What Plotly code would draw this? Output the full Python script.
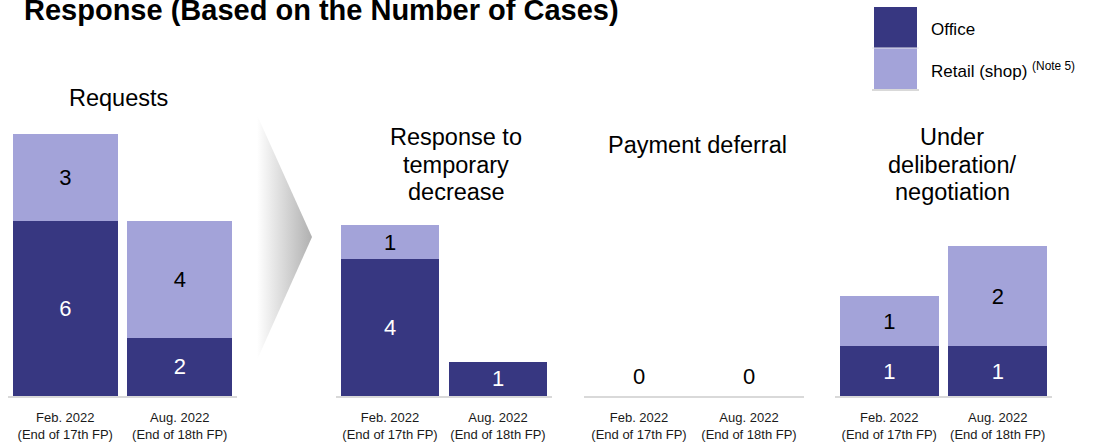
import plotly.graph_objects as go

# ---------------- data ----------------
periods = ["Feb. 2022<br>(End of 17th FP)", "Aug. 2022<br>(End of 18th FP)"]

office_requests = [6, 2]
retail_requests = [3, 4]
office_temp_decrease = [4, 1]
retail_temp_decrease = [1, 0]
office_deferral = [0, 0]
retail_deferral = [0, 0]
office_deliberation = [1, 1]
retail_deliberation = [1, 2]

group_titles = [
    ["Requests"],
    ["Response to", "temporary", "decrease"],
    ["Payment deferral"],
    ["Under", "deliberation/", "negotiation"],
]
series_names = ["Office", "Retail (shop)"]
chart_title = "Response (Based on the Number of Cases)"

# ---------------- style / layout constants ----------------
W, H = 1093, 443
FONT = "Liberation Sans, Arial, sans-serif"
C_OFFICE = "#373781"
C_RETAIL = "#A3A3D9"
AXIS_GRAY = "#D9D9D9"


def fx(px):
    return px / W


def fy(py):
    return 1 - py / H


BASE = 396  # baseline pixel
groups = [
    dict(office=office_requests, retail=retail_requests, dom=(8, 237), ppu=29.1,
         width=0.92, tx=118, ty=[98]),
    dict(office=office_temp_decrease, retail=retail_temp_decrease, dom=(336, 552), ppu=34.2,
         width=0.91, tx=456, ty=[137.5, 164.5, 191.5]),
    dict(office=office_deferral, retail=retail_deferral, dom=(584, 804), ppu=34.2,
         width=0.91, tx=697, ty=[145]),
    dict(office=office_deliberation, retail=retail_deliberation, dom=(835, 1052), ppu=50,
         width=0.91, tx=952, ty=[137.5, 164.5, 191.5]),
]

fig = go.Figure()
annotations = []
shapes = []

for i, g in enumerate(groups, start=1):
    xa = "x" if i == 1 else f"x{i}"
    ya = "y" if i == 1 else f"y{i}"
    for vals, color, tcolor, name in [
        (g["office"], C_OFFICE, "white", series_names[0]),
        (g["retail"], C_RETAIL, "black", series_names[1]),
    ]:
        fig.add_trace(go.Bar(
            x=periods, y=vals, name=name, xaxis=xa, yaxis=ya,
            marker=dict(color=color, line=dict(width=0)),
            width=g["width"],
            text=[str(v) if v > 0 else "" for v in vals],
            textposition="inside", insidetextanchor="middle",
            textangle=0,
            textfont=dict(family=FONT, size=22, color=tcolor),
            showlegend=False, hoverinfo="skip",
        ))
    # zero totals labelled above the baseline
    for p, o, r in zip(periods, g["office"], g["retail"]):
        if o + r == 0:
            annotations.append(dict(
                x=p, y=0, xref=xa, yref=ya, text="0", showarrow=False,
                yanchor="bottom", yshift=5,
                font=dict(family=FONT, size=22, color="black"),
            ))
    axis_key = "xaxis" if i == 1 else f"xaxis{i}"
    yaxis_key = "yaxis" if i == 1 else f"yaxis{i}"
    fig.layout[axis_key] = dict(
        domain=[fx(g["dom"][0]), fx(g["dom"][1])], anchor=ya,
        type="category", range=[-0.5, 1.5],
        showline=True, linecolor=AXIS_GRAY, linewidth=2,
        showgrid=False, zeroline=False,
        ticks="outside", ticklen=8, tickcolor="rgba(0,0,0,0)",
        tickfont=dict(family=FONT, size=13, color="#1a1a1a"),
        fixedrange=True,
    )
    fig.layout[yaxis_key] = dict(
        domain=[fy(BASE), 1], anchor=xa,
        range=[0, BASE / g["ppu"]],
        visible=False, showgrid=False, zeroline=False, fixedrange=True,
    )
    for line, ty in zip(group_titles[i - 1], g["ty"]):
        annotations.append(dict(
            x=fx(g["tx"]), y=fy(ty), xref="paper", yref="paper",
            text=line, showarrow=False, xanchor="center", yanchor="middle",
            font=dict(family=FONT, size=23.5, color="black"),
        ))

# gradient chevron arrow (decoration) on an overlay pixel axis
fig.add_trace(go.Scatter(
    x=[257, 312, 257, 257], y=[115, 237, 360, 115],
    xaxis="x5", yaxis="y5", mode="lines", fill="toself",
    line=dict(width=0, color="rgba(0,0,0,0)"),
    fillgradient=dict(type="horizontal",
                      colorscale=[[0, "rgba(255,255,255,1)"], [1, "#B0B0B0"]]),
    showlegend=False, hoverinfo="skip",
))
fig.layout["xaxis5"] = dict(domain=[0, 1], range=[0, W], visible=False, anchor="y5", fixedrange=True)
fig.layout["yaxis5"] = dict(domain=[0, 1], range=[H, 0], visible=False, anchor="x5", fixedrange=True)

# main title
annotations.append(dict(
    x=fx(22), y=fy(10), xref="paper", yref="paper", text=f"<b>{chart_title}</b>",
    showarrow=False, xanchor="left", yanchor="middle",
    font=dict(family=FONT, size=29, color="black"),
))

# custom legend
shapes.append(dict(type="rect", xref="paper", yref="paper",
                   x0=fx(874), x1=fx(917), y0=fy(48), y1=fy(7),
                   fillcolor=C_OFFICE, line=dict(width=0)))
shapes.append(dict(type="rect", xref="paper", yref="paper",
                   x0=fx(874), x1=fx(917), y0=fy(89), y1=fy(48),
                   fillcolor=C_RETAIL, line=dict(width=0)))
shapes.append(dict(type="line", xref="paper", yref="paper",
                   x0=fx(872), x1=fx(919), y0=fy(90), y1=fy(90),
                   line=dict(color=AXIS_GRAY, width=2)))
shapes.append(dict(type="line", xref="paper", yref="paper",
                   x0=fx(872), x1=fx(919), y0=fy(48), y1=fy(48),
                   line=dict(color="#E6E6EE", width=1)))
annotations.append(dict(
    x=fx(929), y=fy(30), xref="paper", yref="paper", text=series_names[0],
    showarrow=False, xanchor="left", yanchor="middle",
    font=dict(family=FONT, size=17, color="black"),
))
annotations.append(dict(
    x=fx(929), y=fy(70), xref="paper", yref="paper",
    text=series_names[1] + " <sup>(Note 5)</sup>",
    showarrow=False, xanchor="left", yanchor="middle",
    font=dict(family=FONT, size=17, color="black"),
))

fig.update_layout(
    width=W, height=H,
    margin=dict(l=0, r=0, t=0, b=0),
    barmode="stack",
    paper_bgcolor="white", plot_bgcolor="rgba(0,0,0,0)",
    annotations=annotations, shapes=shapes,
    showlegend=False,
    font=dict(family=FONT),
)

fig.write_html(
    "out.html",
    config={"displayModeBar": False},
    post_script="document.body.style.margin='0px';document.body.style.overflow='hidden';",
)
